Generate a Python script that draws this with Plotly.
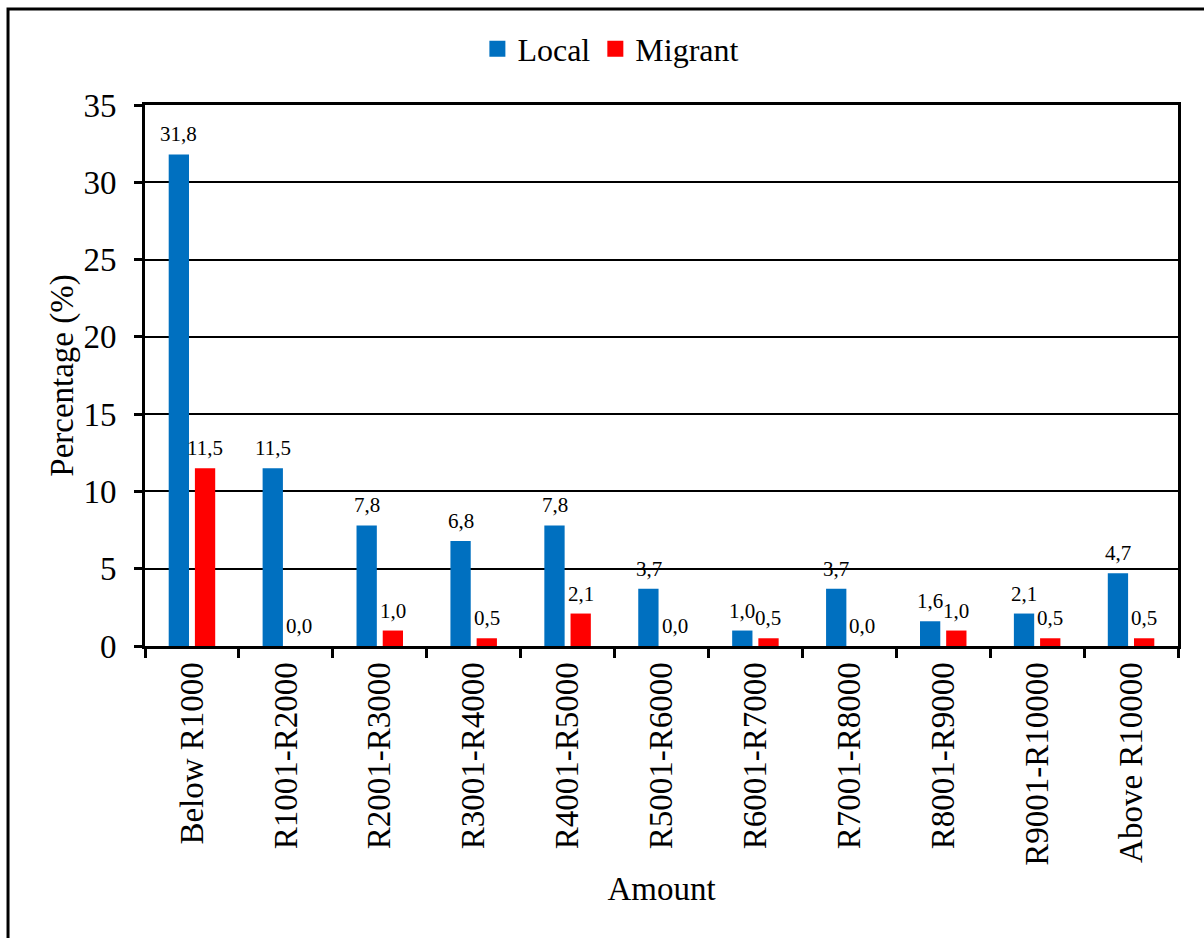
import plotly.graph_objects as go

categories = ["Below R1000", "R1001-R2000", "R2001-R3000", "R3001-R4000",
              "R4001-R5000", "R5001-R6000", "R6001-R7000", "R7001-R8000",
              "R8001-R9000", "R9001-R10000", "Above R10000"]
local = [31.8, 11.5, 7.8, 6.8, 7.8, 3.7, 1.0, 3.7, 1.6, 2.1, 4.7]
migrant = [11.5, 0.0, 1.0, 0.5, 2.1, 0.0, 0.5, 0.0, 1.0, 0.5, 0.5]
y_ticks = [0, 5, 10, 15, 20, 25, 30, 35]

BLUE = "#0070C0"
RED = "#FF0000"
FONT = "Liberation Serif, Times New Roman, serif"

fig = go.Figure()
fig.add_bar(x=categories, y=local, name="Local", marker_color=BLUE,
            marker_line_width=0, showlegend=False)
fig.add_bar(x=categories, y=migrant, name="Migrant", marker_color=RED,
            marker_line_width=0, showlegend=False)

# legend entries with larger square swatches
for name, col in (("Local", BLUE), ("Migrant", RED)):
    fig.add_scatter(x=[None], y=[None], mode="markers", name=name,
                    marker=dict(symbol="square", size=17, color=col))

# value labels above each bar
def fmt(v):
    return f"{v:.1f}".replace(".", ",")

annotations = []
for cat, lv, mv in zip(categories, local, migrant):
    for val, shift in ((lv, -13), (mv, 13)):
        annotations.append(dict(x=cat, y=val, xref="x", yref="y",
                                text=fmt(val), showarrow=False,
                                xshift=shift, yshift=20, yanchor="middle",
                                font=dict(family=FONT, size=21, color="black")))

fig.update_layout(
    width=1204, height=938,
    margin=dict(l=145, r=26, t=105, b=292),
    paper_bgcolor="white", plot_bgcolor="white",
    barmode="group", bargap=0.442, bargroupgap=0.225,
    font=dict(family=FONT, size=33, color="black"),
    annotations=annotations,
    legend=dict(orientation="h", x=0.451, xanchor="center", y=1.1035,
                yanchor="middle", font=dict(family=FONT, size=32),
                itemwidth=30, bgcolor="rgba(0,0,0,0)"),
    shapes=[dict(type="rect", xref="paper", yref="paper",
                 x0=-0.1326, x1=1.5, y0=-1.0, y1=1.1775,
                 line=dict(color="black", width=3), fillcolor="rgba(0,0,0,0)",
                 layer="below")],
)

fig.update_xaxes(
    type="category", showline=True, linecolor="black", linewidth=3,
    mirror=True, ticks="outside", tickson="boundaries", ticklen=9,
    tickwidth=3, tickcolor="black", tickangle=-90, showgrid=False,
    tickfont=dict(family=FONT, size=33),
    title=dict(text="Amount", font=dict(family=FONT, size=33), standoff=13),
)
fig.update_yaxes(
    range=[0, 35], tickvals=y_ticks, showline=True, linecolor="black",
    linewidth=3, mirror=True, ticks="outside", ticklen=8, tickwidth=3,
    tickcolor="black", showgrid=True, gridcolor="black", gridwidth=2,
    zeroline=False, tickfont=dict(family=FONT, size=33),
    ticklabelstandoff=11,
    title=dict(text="Percentage (%)", font=dict(family=FONT, size=33),
               standoff=0),
)

fig.write_html("out.html")
